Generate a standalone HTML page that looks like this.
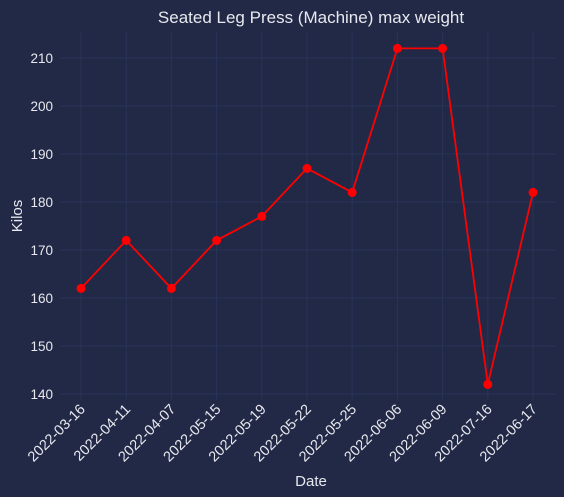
<!DOCTYPE html>
<html><head><meta charset="utf-8"><style>
body{margin:0;background:#212946;}
svg{display:block;font-family:"Liberation Sans",sans-serif;}
</style></head><body>
<svg id="c" width="564" height="497">
<rect width="564" height="497" fill="#212946"/>
<text x="311" y="23" fill="#e8e8ee" font-size="17" text-anchor="middle">Seated Leg Press (Machine) max weight</text>
<text x="311" y="486" fill="#e8e8ee" font-size="15" text-anchor="middle">Date</text>
<text x="22" y="216" fill="#e8e8ee" font-size="15" text-anchor="middle" transform="rotate(-90 22 216)">Kilos</text>
<g id="grid"></g><g id="ticks"></g><g id="series"></g>
</svg>
<script>
const categories=["2022-03-16","2022-04-11","2022-04-07","2022-05-15","2022-05-19","2022-05-22","2022-05-25","2022-06-06","2022-06-09","2022-07-16","2022-06-17"];
const values=[162,172,162,172,177,187,182,212,212,142,182];
const yTicks=[140,150,160,170,180,190,200,210];
const NS="http://www.w3.org/2000/svg";
const L=59,R=555,T=32,B=400;
function x(i){return 81+i*(533-81)/(categories.length-1);}
function y(v){return 394-(v-140)*4.8;}
function mk(t,a,p){const e=document.createElementNS(NS,t);for(const k in a)e.setAttribute(k,a[k]);document.getElementById(p).appendChild(e);return e;}
yTicks.forEach(v=>{
 const g=mk('line',{x1:L,x2:R,y1:y(v),y2:y(v),stroke:'#2a3459','stroke-width':1},'grid');
 
 
 const t=mk('text',{x:53,y:y(v)+5,fill:'#e8e8ee','font-size':13.5,'text-anchor':'end'},'ticks');
 t.textContent=v;
 
 
});
categories.forEach((c,i)=>{
 const g=mk('line',{x1:x(i),x2:x(i),y1:T,y2:B,stroke:'#2a3459','stroke-width':1},'grid');
 
 
 const tx=x(i)+5,ty=410;
 const t=mk('text',{x:tx,y:ty,fill:'#e8e8ee','font-size':14.5,'text-anchor':'end',transform:`rotate(-45 ${tx} ${ty})`},'ticks');
 t.textContent=c;
 
 
});
const pl=mk('polyline',{points:values.map((v,i)=>x(i)+','+y(v)).join(' '),fill:'none',stroke:'#ff0000','stroke-width':1.8},'series');


values.forEach((v,i)=>{
 const p=mk('circle',{cx:x(i),cy:y(v),r:4.5,fill:'#ff0000'},'series');
 
 
});
</script>
</body></html>
